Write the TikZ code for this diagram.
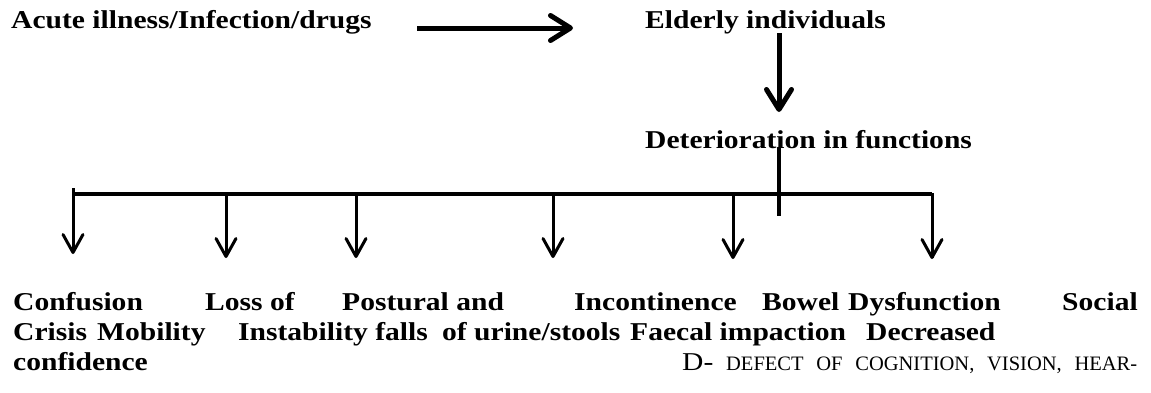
\documentclass[tikz,border=0pt]{standalone}
\usepackage{fontspec}
\setmainfont{Liberation Serif}[FakeStretch=1.15]
\newfontfamily\scfont{Liberation Serif}
\usetikzlibrary{arrows.meta}
\begin{document}
\begin{tikzpicture}[x=1pt,y=-1pt,
  lbl/.style={inner sep=0pt, anchor=base west, font=\fontsize{25.7}{30}\selectfont\bfseries},
  sclbl/.style={inner sep=0pt, anchor=base west, font=\fontsize{25.7}{30}\selectfont},
  bigarrow/.style={line width=5pt, -{Straight Barb[length=20pt,width=25pt,round]}},
  trunk/.style={line width=4.5pt},
  bar/.style={line width=3.5pt},
  drop/.style={line width=3pt, -{Straight Barb[length=18pt,width=20pt,round]}}]
\path[use as bounding box] (0,0) rectangle (1151,392);
% top row
\node[lbl] (acute) at (11,28) {Acute illness/Infection/drugs};
\node[lbl] (elderly) at (645,28) {Elderly individuals};
\node[lbl] (deter) at (645,148) {Deterioration in functions};
\coordinate (ha) at (417,28);
\coordinate (hb) at (573,28);
\draw[bigarrow] (ha) -- (hb);
\coordinate (va) at (779,33);
\coordinate (vb) at (779,112);
\draw[bigarrow] (va) -- (vb);
% tree
\coordinate (ta) at (779,148);
\coordinate (tb) at (779,216);
\draw[trunk] (ta) -- (tb);
\coordinate (b1) at (73,194);
\coordinate (b6) at (932,194);
\draw[bar] (b1) -- (b6);
\coordinate (b1t) at (73,188);
\coordinate (b2) at (226,194);
\coordinate (b3) at (356,194);
\coordinate (b4) at (553,194);
\coordinate (b5) at (733,194);
\coordinate (e1) at (73,254);
\coordinate (e2) at (226,258);
\coordinate (e3) at (356,258);
\coordinate (e4) at (553,258);
\coordinate (e5) at (733,259);
\coordinate (e6) at (932,259);
\draw[drop] (b1t) -- (e1);
\draw[drop] (b2) -- (e2);
\draw[drop] (b3) -- (e3);
\draw[drop] (b4) -- (e4);
\draw[drop] (b5) -- (e5);
\draw[drop, line cap=rect] (b6) -- (e6);
% bottom text, line 1
\node[lbl] (w11) at (13,310) {Confusion};
\node[lbl] (w12) at (205,310) {Loss of};
\node[lbl] (w13) at (342,310) {Postural and};
\node[lbl] (w14) at (574,310) {Incontinence};
\node[lbl] (w15) at (762,310) {Bowel};
\node[lbl] (w16) at (848,310) {Dysfunction};
\node[lbl] (w17) at (1062,310) {Social};
% line 2
\node[lbl] (w21) at (13,340) {Crisis};
\node[lbl] (w22) at (97,340) {Mobility};
\node[lbl] (w23) at (238,340) {Instability falls};
\node[lbl] (w24) at (442,340) {of urine/stools};
\node[lbl] (w25) at (630,340) {Faecal impaction};
\node[lbl] (w26) at (866,340) {Decreased};
% line 3
\node[lbl] (w31) at (13,370) {confidence};
\node[sclbl] (w32) at (682,370) {\makebox[455pt][s]{D-\hfill{\scfont\fontsize{20.5}{24}\selectfont DEFECT\hfill OF\hfill COGNITION,\hfill VISION,\hfill HEAR-}}};
\end{tikzpicture}
\end{document}
